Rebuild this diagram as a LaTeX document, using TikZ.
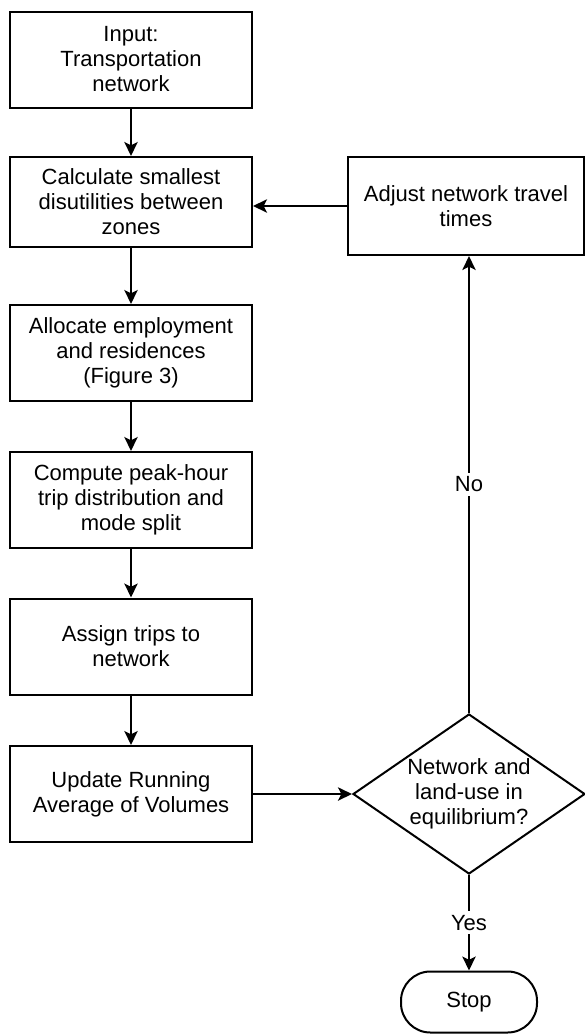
\documentclass[tikz,border=0pt]{standalone}
\usepackage{fontspec}
\setmainfont{Liberation Sans}
\usetikzlibrary{shapes.geometric,arrows.meta}

\tikzset{every picture/.style={line width=1.5pt}}
\tikzset{
	flowtext/.style={font=\fontsize{16.5}{18.75}\selectfont},
	procbox/.style={draw, rectangle, flowtext, align=center, inner sep=2pt,
		minimum width=181.5pt, minimum height=72pt},
	testbox/.style={draw, diamond, flowtext, align=center, inner sep=0pt,
		aspect=1.45, minimum width=174pt, minimum height=120pt},
	endbox/.style={draw, rectangle, flowtext, rounded corners=22pt,
		minimum width=102pt, minimum height=45.75pt},
	answer/.style={flowtext, fill=white, inner sep=3pt},
	flow/.style={-{Stealth[length=10.5pt,width=10pt,inset=2.5pt]}}
}

\begin{document}
\begin{tikzpicture}[x=0.75pt,y=0.75pt,yscale=-1,xscale=1]
	\useasboundingbox (0,0) rectangle (585,1035);

	%Shape: Rectangle
	\node (input) at (131,59.5) [procbox] {Input:\\Transportation\\network};
	%Shape: Rectangle
	\node (calc) at (131,202) [procbox, minimum height=67.5pt] {Calculate smallest\\disutilities between\\zones};
	%Shape: Rectangle
	\node (alloc) at (131,353) [procbox] {Allocate employment\\and residences\\(Figure 3)};
	%Shape: Rectangle
	\node (compute) at (131,500) [procbox] {Compute peak-hour\\trip distribution and\\mode split};
	%Shape: Rectangle
	\node (assign) at (131,646.5) [procbox] {Assign trips to\\network};
	%Shape: Rectangle
	\node (update) at (131,794) [procbox] {Update Running\\Average of Volumes};
	%Shape: Rectangle
	\node (adjust) at (466,206) [procbox, minimum width=177pt, minimum height=73.5pt] {Adjust network travel\\times};
	%Shape: Diamond
	\node (decide) at (469,794) [testbox] {Network and\\land-use in\\equilibrium?};
	%Shape: Rounded Rectangle
	\node (stop) at (469,1002) [endbox] {Stop};

	%Straight Lines
	\draw [flow] (input) -- (calc);
	\draw [flow] (calc) -- (alloc);
	\draw [flow] (alloc) -- (compute);
	\draw [flow] (compute) -- (assign);
	\draw [flow] (assign) -- (update);
	\draw [flow] (update) -- (decide);
	\draw [flow] (decide.north) -- (decide.north |- adjust.south) node [answer, midway] (no) {No};
	\draw [flow] (adjust.west) -- (adjust.west -| calc.east);
	\draw [flow] (decide) -- (stop) node [answer, midway] (yes) {Yes};

\end{tikzpicture}
\end{document}
